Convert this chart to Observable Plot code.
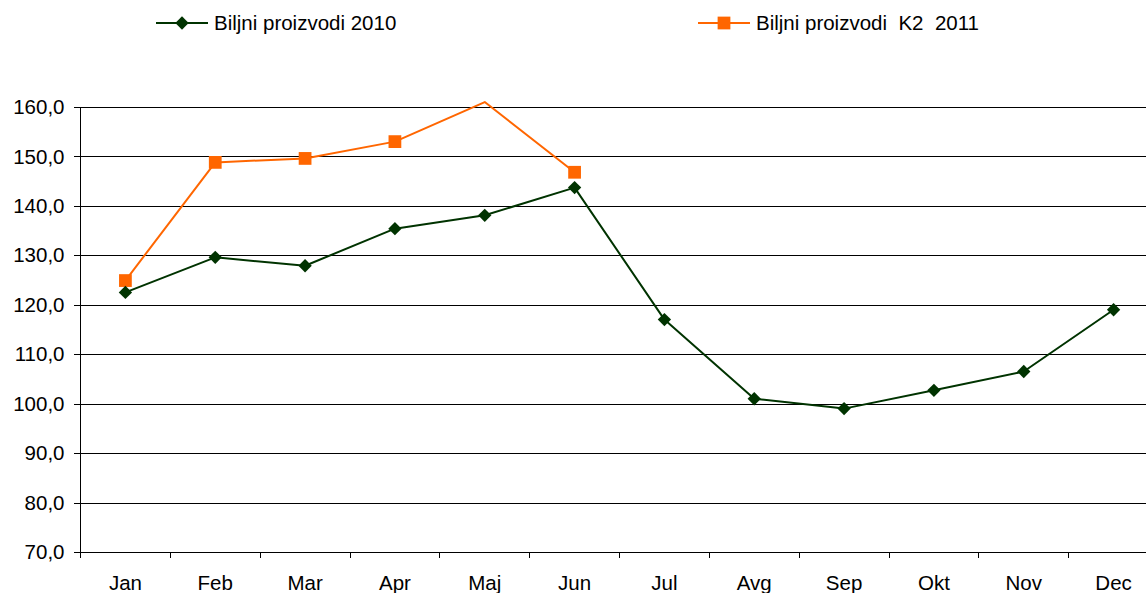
<!DOCTYPE html>
<html>
<head>
<meta charset="utf-8">
<script src="https://cdn.jsdelivr.net/npm/d3@7"></script>
<script src="https://cdn.jsdelivr.net/npm/@observablehq/plot@0.6"></script>
<style>
  body { margin: 0; background: #fff; font-family: "Liberation Sans", Arial, sans-serif; }
  #wrap { position: relative; width: 1146px; height: 593px; overflow: hidden; }
  #legend { position: relative; height: 50px; }
  .item { position: absolute; top: 11px; display: flex; align-items: center; font-size: 20.5px; color: #000; white-space: pre; }
  .item svg { display: block; margin-right: 6px; }
</style>
</head>
<body>
<div id="wrap">
  <div id="legend"></div>
  <div id="chart"></div>
</div>
<script>
const months = ["Jan","Feb","Mar","Apr","Maj","Jun","Jul","Avg","Sep","Okt","Nov","Dec"];
const series2010 = [122.6, 129.7, 128.0, 135.5, 138.2, 143.8, 117.1, 101.1, 99.1, 102.8, 106.6, 119.1];
const series2011 = [125.0, 148.9, 149.7, 153.1, 161.1, 146.9];
const seriesNames = ["Biljni proizvodi 2010", "Biljni proizvodi  K2  2011"];
const seriesColors = ["#003300", "#FF6600"];
const yTicks = [70, 80, 90, 100, 110, 120, 130, 140, 150, 160];

const data = [
  ...series2010.map((v, i) => ({series: seriesNames[0], i, value: v})),
  ...series2011.map((v, i) => ({series: seriesNames[1], i, value: v}))
];
const d2010 = data.filter(d => d.series === seriesNames[0]);
const d2011 = data.filter(d => d.series === seriesNames[1]);

const fmt = v => v.toFixed(1).replace(".", ",");
const idx = months.map((m, i) => i);
const bounds = d3.range(-0.5, months.length, 1);

const chart = Plot.plot({
  width: 1146,
  height: 543,
  marginLeft: 80,
  marginRight: 0,
  marginTop: 57,
  marginBottom: 41,
  style: {fontFamily: "'Liberation Sans', Arial, sans-serif", fontSize: "20.5px", color: "#000", background: "#fff"},
  x: {type: "linear", domain: [-0.5, 11.5], range: [80, 1158]},
  y: {domain: [70, 160]},
  marks: [
    Plot.ruleY(yTicks.slice(1), {stroke: "#000", strokeWidth: 1, shapeRendering: "crispEdges"}),
    Plot.ruleY([70], {stroke: "#000", strokeWidth: 1, shapeRendering: "crispEdges"}),
    Plot.ruleX([-0.5], {y1: 70, y2: 160, stroke: "#000", strokeWidth: 1, shapeRendering: "crispEdges"}),
    Plot.axisY({ticks: yTicks, tickFormat: fmt, tickSize: 6, tickPadding: 10, label: null, fontSize: 20.5, shapeRendering: "crispEdges"}),
    Plot.axisX({ticks: bounds, tickFormat: () => "", tickSize: 6, label: null, shapeRendering: "crispEdges"}),
    Plot.axisX({ticks: idx, tickFormat: i => months[i], tickSize: 0, tickPadding: 23, label: null, fontSize: 20.5}),
    Plot.line(d2011, {x: "i", y: "value", stroke: seriesColors[1], strokeWidth: 2}),
    Plot.dot(d2011.filter(d => d.value <= 160), {x: "i", y: "value", symbol: "square", r: 7.2, fill: seriesColors[1], stroke: "none"}),
    Plot.line(d2010, {x: "i", y: "value", stroke: seriesColors[0], strokeWidth: 2}),
    Plot.dot(d2010, {x: "i", y: "value", symbol: "diamond2", r: 6, fill: seriesColors[0], stroke: "none"})
  ]
});
document.getElementById("chart").appendChild(chart);

// Legend
const legend = document.getElementById("legend");
const legendPos = [156, 698];
seriesNames.forEach((name, k) => {
  const item = document.createElement("div");
  item.className = "item";
  item.style.left = legendPos[k] + "px";
  const sym = d3.symbol(k === 0 ? d3.symbolDiamond2 : d3.symbolSquare, k === 0 ? 113 : 163)();
  item.innerHTML = `<svg width="52" height="22"><line x1="0" x2="52" y1="11" y2="11" stroke="${seriesColors[k]}" stroke-width="2"/><path d="${sym}" transform="translate(26,11)" fill="${seriesColors[k]}"/></svg><span>${name}</span>`;
  legend.appendChild(item);
});
</script>
</body>
</html>
